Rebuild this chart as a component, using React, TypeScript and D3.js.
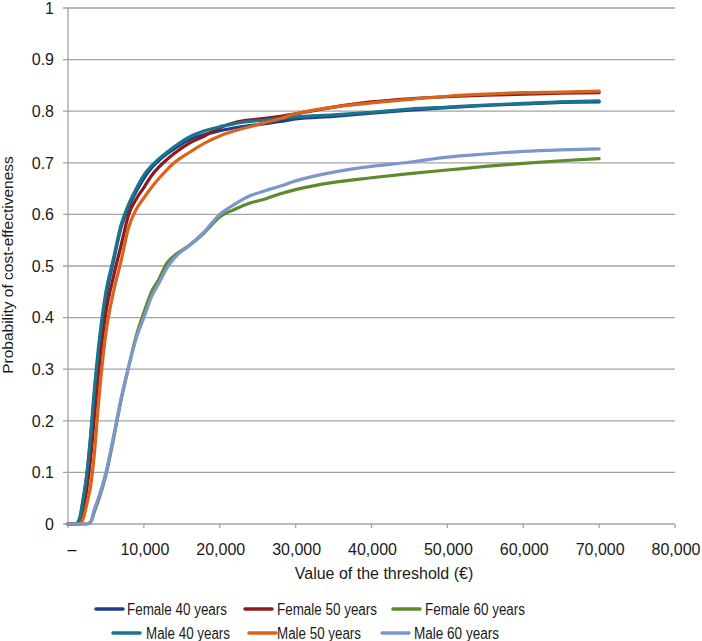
import React from "react";
import * as d3 from "d3";

const thresholds = [0, 1000, 1500, 2000, 2500, 3000, 3500, 4000, 5000, 6000, 7000, 8000, 9000, 10000, 11000, 12000, 13000, 14000, 16000, 18000, 20000, 22000, 24000, 26000, 28000, 30000, 35000, 40000, 45000, 50000, 55000, 60000, 65000, 70000];

const female40 = [0, 0, 0.008, 0.045, 0.095, 0.17, 0.255, 0.33, 0.44, 0.51, 0.575, 0.615, 0.645, 0.67, 0.69, 0.705, 0.717, 0.727, 0.745, 0.755, 0.762, 0.768, 0.772, 0.776, 0.78, 0.785, 0.79, 0.796, 0.802, 0.807, 0.811, 0.814, 0.817, 0.818];
const female50 = [0, 0, 0.003, 0.025, 0.07, 0.13, 0.21, 0.29, 0.41, 0.48, 0.54, 0.6, 0.63, 0.652, 0.675, 0.692, 0.706, 0.718, 0.738, 0.752, 0.768, 0.778, 0.783, 0.786, 0.79, 0.795, 0.808, 0.818, 0.824, 0.828, 0.831, 0.833, 0.835, 0.836];
const female60 = [0, 0, 0, 0, 0, 0.004, 0.025, 0.045, 0.095, 0.165, 0.24, 0.305, 0.365, 0.41, 0.45, 0.475, 0.505, 0.52, 0.54, 0.565, 0.595, 0.61, 0.622, 0.63, 0.64, 0.648, 0.662, 0.671, 0.679, 0.686, 0.693, 0.699, 0.704, 0.708];
const male40 = [0, 0, 0.01, 0.05, 0.1, 0.175, 0.265, 0.34, 0.45, 0.515, 0.58, 0.62, 0.65, 0.676, 0.694, 0.708, 0.72, 0.731, 0.75, 0.762, 0.77, 0.776, 0.78, 0.783, 0.786, 0.789, 0.793, 0.798, 0.804, 0.808, 0.812, 0.815, 0.818, 0.82];
const male50 = [0, 0, 0, 0.01, 0.04, 0.075, 0.14, 0.23, 0.37, 0.45, 0.51, 0.575, 0.61, 0.632, 0.652, 0.67, 0.686, 0.7, 0.72, 0.738, 0.752, 0.762, 0.77, 0.778, 0.786, 0.795, 0.808, 0.816, 0.823, 0.829, 0.833, 0.836, 0.837, 0.839];
const male60 = [0, 0, 0, 0, 0, 0.005, 0.03, 0.05, 0.1, 0.17, 0.244, 0.305, 0.36, 0.4, 0.44, 0.467, 0.495, 0.515, 0.54, 0.567, 0.6, 0.62, 0.636, 0.646, 0.655, 0.665, 0.682, 0.693, 0.701, 0.711, 0.717, 0.722, 0.725, 0.727];

const seriesNames = ["Female 40 years", "Female 50 years", "Female 60 years", "Male 40 years", "Male 50 years", "Male 60 years"];
const seriesValues = [female40, female50, female60, male40, male50, male60];
const seriesColors = ["#213f86", "#8c1c1c", "#5f8b2c", "#18748f", "#d8641e", "#7c97cb"];

const xTicks = [0, 10000, 20000, 30000, 40000, 50000, 60000, 70000, 80000];
const xTickLabels = ["–", "10,000", "20,000", "30,000", "40,000", "50,000", "60,000", "70,000", "80,000"];
const yTicks = [0, 0.1, 0.2, 0.3, 0.4, 0.5, 0.6, 0.7, 0.8, 0.9, 1];
const yTickLabels = ["0", "0.1", "0.2", "0.3", "0.4", "0.5", "0.6", "0.7", "0.8", "0.9", "1"];

const xTitle = "Value of the threshold (€)";
const yTitle = "Probability of cost-effectiveness";

export default function App() {
  const W = 702, H = 641;
  const left = 68, right = 675, top = 8, bottom = 524;
  const x = d3.scaleLinear().domain([0, 80000]).range([left, right]);
  const y = d3.scaleLinear().domain([0, 1]).range([bottom, top]);
  const line = d3
    .line<[number, number]>()
    .x((d) => x(d[0]))
    .y((d) => y(d[1]))
    .curve(d3.curveMonotoneX);

  const grid = "#a3a3a3";
  const font = "'Liberation Sans', Arial, sans-serif";
  const textColor = "#1a1a1a";

  const legendItems = [
    { i: 0, lx: 96, tx: 127, row: 0, w: 100 },
    { i: 1, lx: 245, tx: 277, row: 0, w: 100 },
    { i: 2, lx: 393, tx: 425, row: 0, w: 100 },
    { i: 3, lx: 113, tx: 146, row: 1, w: 84 },
    { i: 4, lx: 249, tx: 277, row: 1, w: 84 },
    { i: 5, lx: 382, tx: 414, row: 1, w: 85 },
  ];

  return (
    <svg
      width={W}
      height={H}
      style={{ position: "absolute", left: 0, top: 0, background: "#fff" }}
      fontFamily={font}
    >
      <rect x={0} y={0} width={W} height={H} fill="#fff" />
      {yTicks.map((t, i) => (
        <line
          key={"g" + i}
          x1={left - 5}
          x2={right}
          y1={y(t)}
          y2={y(t)}
          stroke={grid}
          strokeWidth={1.3}
        />
      ))}
      <line x1={left} x2={left} y1={top} y2={bottom} stroke={grid} strokeWidth={1.3} />
      {xTicks.map((t, i) => (
        <line key={"xt" + i} x1={x(t)} x2={x(t)} y1={bottom} y2={bottom + 4} stroke={grid} strokeWidth={1.3} />
      ))}
      {yTicks.map((t, i) => (
        <text
          key={"yl" + i}
          x={54}
          y={y(t)}
          dy="0.36em"
          textAnchor="end"
          fontSize={16}
          fill={textColor}
        >
          {yTickLabels[i]}
        </text>
      ))}
      {xTicks.map((t, i) => (
        <text
          key={"xl" + i}
          x={x(t) + (i === 0 ? 4 : 1)}
          y={555}
          textAnchor="middle"
          fontSize={16}
          fill={textColor}
        >
          {xTickLabels[i]}
        </text>
      ))}
      <text x={384} y={579} textAnchor="middle" fontSize={16} fill={textColor}>
        {xTitle}
      </text>
      <text
        transform={`translate(13,265) rotate(-90)`}
        textAnchor="middle"
        fontSize={15.5}
        fill={textColor}
      >
        {yTitle}
      </text>
      {seriesValues.map((vals, si) => (
        <path
          key={"s" + si}
          d={line(thresholds.map((t, k) => [t, vals[k]] as [number, number])) || ""}
          fill="none"
          stroke={seriesColors[si]}
          strokeWidth={3.2}
          strokeLinejoin="round"
          strokeLinecap="round"
        />
      ))}
      {legendItems.map((it) => {
        const cy = it.row === 0 ? 609 : 633;
        return (
          <g key={"lg" + it.i}>
            <line
              x1={it.lx}
              x2={it.lx + 27}
              y1={cy}
              y2={cy}
              stroke={seriesColors[it.i]}
              strokeWidth={3.5}
              strokeLinecap="round"
            />
            <text
              x={it.tx}
              y={cy + 5.5}
              fontSize={16}
              fill={textColor}
              textLength={it.w}
              lengthAdjust="spacingAndGlyphs"
            >
              {seriesNames[it.i]}
            </text>
          </g>
        );
      })}
    </svg>
  );
}
